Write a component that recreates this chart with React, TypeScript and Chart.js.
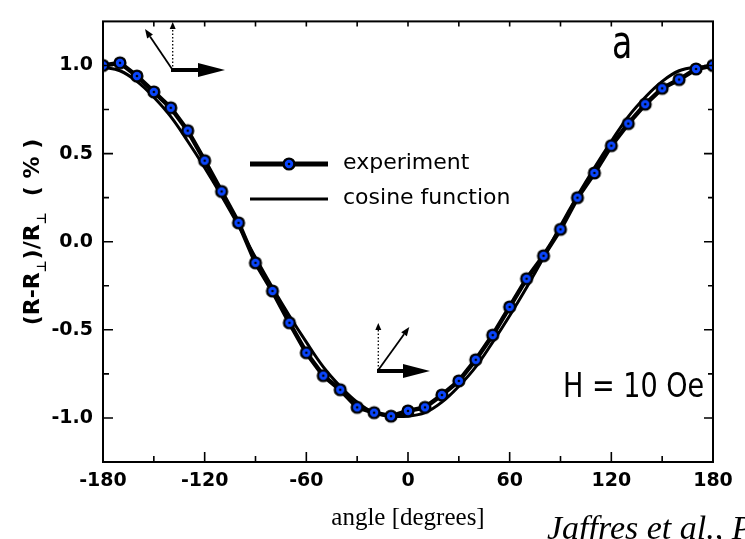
import React, { useEffect, useRef } from "react";
import { Chart, registerables } from "chart.js";

Chart.register(...registerables);

// ---------- data ----------
const angles = [
  -180, -170, -160, -150, -140, -130, -120, -110, -100, -90, -80, -70, -60, -50, -40, -30, -20, -10,
  0, 10, 20, 30, 40, 50, 60, 70, 80, 90, 100, 110, 120, 130, 140, 150, 160, 170, 180,
];
const experiment = [
  1.0, 1.015, 0.94, 0.85, 0.76, 0.63, 0.46, 0.285, 0.107, -0.12, -0.28, -0.46, -0.63, -0.76, -0.84,
  -0.94, -0.97, -0.99, -0.96, -0.94, -0.87, -0.79, -0.67, -0.53, -0.37, -0.21, -0.08, 0.07, 0.25,
  0.39, 0.545, 0.67, 0.78, 0.87, 0.92, 0.98, 1.0,
];
const cosineFunction = [
  0.99, 0.97, 0.91, 0.82, 0.71, 0.57, 0.42, 0.26, 0.09, -0.09, -0.26, -0.42, -0.57, -0.71, -0.82,
  -0.91, -0.97, -0.99, -0.99, -0.97, -0.91, -0.82, -0.71, -0.57, -0.42, -0.26, -0.09, 0.09, 0.26,
  0.42, 0.57, 0.71, 0.82, 0.91, 0.97, 0.99, 0.99,
];
const xMajorTicks = [-180, -120, -60, 0, 60, 120, 180];
const xMinorTicks = [-150, -90, -30, 30, 90, 150];
const yMajorTicks = [-1.0, -0.5, 0.0, 0.5, 1.0];
const yMinorTicks = [-0.75, -0.25, 0.25, 0.75];
const legendLabels = ["experiment", "cosine function"];
const xTitle = "angle [degrees]";
const citation = "Jaffres et al., PRB";
const panelLabel = "a";
const fieldLabel = "H = 10 Oe";

const BLUE = "#0a46ff";

function makeMarker() {
  const c = document.createElement("canvas");
  c.width = 16;
  c.height = 16;
  const g = c.getContext("2d")!;
  g.beginPath();
  g.arc(8, 8, 5.4, 0, Math.PI * 2);
  g.fillStyle = BLUE;
  g.fill();
  g.lineWidth = 2.4;
  g.strokeStyle = "#000";
  g.stroke();
  g.beginPath();
  g.arc(8, 8, 1.3, 0, Math.PI * 2);
  g.fillStyle = "#000";
  g.fill();
  return c;
}

function arrow(
  ctx: CanvasRenderingContext2D,
  x1: number,
  y1: number,
  x2: number,
  y2: number,
  lw: number,
  headLen: number,
  headHalf: number,
  dotted: boolean
) {
  const ang = Math.atan2(y2 - y1, x2 - x1);
  const bx = x2 - Math.cos(ang) * headLen;
  const by = y2 - Math.sin(ang) * headLen;
  ctx.save();
  ctx.strokeStyle = "#000";
  ctx.fillStyle = "#000";
  ctx.lineWidth = lw;
  ctx.setLineDash(dotted ? [1.5, 2] : []);
  ctx.beginPath();
  ctx.moveTo(x1, y1);
  ctx.lineTo(bx, by);
  ctx.stroke();
  ctx.setLineDash([]);
  ctx.beginPath();
  ctx.moveTo(x2, y2);
  ctx.lineTo(bx + Math.sin(ang) * headHalf, by - Math.cos(ang) * headHalf);
  ctx.lineTo(bx - Math.sin(ang) * headHalf, by + Math.cos(ang) * headHalf);
  ctx.closePath();
  ctx.fill();
  ctx.restore();
}

export default function App() {
  const ref = useRef<HTMLCanvasElement | null>(null);

  useEffect(() => {
    const canvas = ref.current;
    if (!canvas) return;
    const marker = makeMarker();

    const overlay = {
      id: "overlay",
      afterDraw(chart: any) {
        const { ctx, chartArea: a } = chart;
        const xs = chart.scales.x;
        const ys = chart.scales.y;
        ctx.save();
        // frame
        ctx.strokeStyle = "#000";
        ctx.lineWidth = 2;
        ctx.strokeRect(a.left, a.top, a.right - a.left, a.bottom - a.top);
        // ticks
        ctx.lineWidth = 1.6;
        ctx.beginPath();
        xMajorTicks.forEach((v) => {
          const px = xs.getPixelForValue(v);
          ctx.moveTo(px, a.bottom);
          ctx.lineTo(px, a.bottom - 10);
          ctx.moveTo(px, a.top);
          ctx.lineTo(px, a.top + 5);
        });
        xMinorTicks.forEach((v) => {
          const px = xs.getPixelForValue(v);
          ctx.moveTo(px, a.bottom);
          ctx.lineTo(px, a.bottom - 6);
          ctx.moveTo(px, a.top);
          ctx.lineTo(px, a.top + 5);
        });
        yMajorTicks.forEach((v) => {
          const py = ys.getPixelForValue(v);
          ctx.moveTo(a.left, py);
          ctx.lineTo(a.left + 10, py);
          ctx.moveTo(a.right, py);
          ctx.lineTo(a.right - 9, py);
        });
        yMinorTicks.forEach((v) => {
          const py = ys.getPixelForValue(v);
          ctx.moveTo(a.left, py);
          ctx.lineTo(a.left + 6, py);
          ctx.moveTo(a.right, py);
          ctx.lineTo(a.right - 5, py);
        });
        ctx.stroke();

        // legend
        ctx.lineWidth = 5;
        ctx.beginPath();
        ctx.moveTo(250, 164);
        ctx.lineTo(328, 164);
        ctx.stroke();
        ctx.drawImage(marker, 289 - 8, 164 - 8);
        ctx.lineWidth = 3;
        ctx.beginPath();
        ctx.moveTo(250, 199);
        ctx.lineTo(328, 199);
        ctx.stroke();
        ctx.fillStyle = "#000";
        ctx.font = '22px "DejaVu Sans"';
        ctx.textAlign = "left";
        ctx.textBaseline = "middle";
        ctx.fillText(legendLabels[0], 343, 163);
        ctx.fillText(legendLabels[1], 343, 198);

        // panel label "a"
        ctx.save();
        ctx.translate(612, 58);
        ctx.scale(0.72, 1);
        ctx.font = '46px "DejaVu Sans"';
        ctx.textBaseline = "alphabetic";
        ctx.fillText(panelLabel, 0, 0);
        ctx.restore();

        // field label
        ctx.save();
        ctx.translate(563, 397);
        ctx.scale(0.82, 1);
        ctx.font = '33px "DejaVu Sans"';
        ctx.textBaseline = "alphabetic";
        ctx.fillText(fieldLabel, 0, 0);
        ctx.restore();

        // arrows top-left
        arrow(ctx, 172.7, 70, 172.7, 22, 1.3, 7, 3, true);
        arrow(ctx, 172.7, 70, 145, 29, 1.8, 9, 3.5, false);
        arrow(ctx, 171, 70, 225, 70, 4, 27, 7, false);
        // arrows middle
        arrow(ctx, 378.3, 370, 378.3, 323, 1.3, 7, 3, true);
        arrow(ctx, 378.3, 370, 409.3, 327, 1.8, 9, 3.5, false);
        arrow(ctx, 377, 371, 430, 371, 4, 27, 7, false);

        // y title with subscripts
        ctx.save();
        ctx.translate(33, 232);
        ctx.rotate(-Math.PI / 2);
        const parts: [string, boolean][] = [
          ["(R-R", false],
          ["\u22A5", true],
          [")/R", false],
          ["\u22A5", true],
          ["  ( % )", false],
        ];
        const mainFont = 'bold 22px "DejaVu Sans"';
        const subFont = 'bold 13px "DejaVu Sans"';
        let total = 0;
        parts.forEach(([t, sub]) => {
          ctx.font = sub ? subFont : mainFont;
          total += ctx.measureText(t).width + (sub ? 1 : 0);
        });
        let cx = -total / 2;
        ctx.textAlign = "left";
        ctx.textBaseline = "middle";
        parts.forEach(([t, sub]) => {
          ctx.font = sub ? subFont : mainFont;
          ctx.fillText(t, cx, sub ? 10 : 0);
          cx += ctx.measureText(t).width + (sub ? 1 : 0);
        });
        ctx.restore();

        // x title
        ctx.font = '25px "Liberation Serif"';
        ctx.textAlign = "center";
        ctx.textBaseline = "middle";
        ctx.fillText(xTitle, 408, 518);
        // citation
        ctx.font = 'italic 34px "Liberation Serif"';
        ctx.textAlign = "left";
        ctx.textBaseline = "alphabetic";
        ctx.fillText(citation, 547, 539);
        ctx.restore();
      },
    };

    const chart = new Chart(canvas, {
      type: "line",
      data: {
        datasets: [
          {
            label: legendLabels[0],
            data: angles.map((a, i) => ({ x: a, y: experiment[i] })),
            borderColor: "#000",
            borderWidth: 4.5,
            pointStyle: marker as any,
            pointRadius: 7,
            tension: 0,
            clip: 0,
          },
          {
            label: legendLabels[1],
            data: angles.map((a, i) => ({ x: a, y: cosineFunction[i] })),
            borderColor: "#000",
            borderWidth: 3,
            pointRadius: 0,
            tension: 0.4,
            clip: 0,
          },
        ],
      },
      options: {
        responsive: false,
        animation: false,
        devicePixelRatio: 1,
        events: [],
        layout: { padding: { top: 10, right: 32, left: 0, bottom: 0 } },
        plugins: { legend: { display: false }, tooltip: { enabled: false } },
        scales: {
          x: {
            type: "linear",
            min: -180,
            max: 180,
            grid: { display: false, drawTicks: false },
            border: { display: false },
            afterBuildTicks: (s: any) => {
              s.ticks = xMajorTicks.map((v) => ({ value: v }));
            },
            afterFit: (s: any) => {
              s.height = 77;
            },
            ticks: {
              color: "#000",
              font: { family: "DejaVu Sans", weight: "bold", size: 19 },
              padding: 8,
              maxRotation: 0,
              autoSkip: false,
              callback: (v: any) => String(v),
            },
          },
          y: {
            type: "linear",
            min: -1.25,
            max: 1.25,
            grid: { display: false, drawTicks: false },
            border: { display: false },
            afterBuildTicks: (s: any) => {
              s.ticks = yMajorTicks.map((v) => ({ value: v }));
            },
            afterFit: (s: any) => {
              s.width = 103;
            },
            ticks: {
              color: "#000",
              font: { family: "DejaVu Sans", weight: "bold", size: 19 },
              padding: 10,
              autoSkip: false,
              callback: (v: any) => Number(v).toFixed(1),
            },
          },
        },
      },
      plugins: [overlay],
    });
    return () => chart.destroy();
  }, []);

  return (
    <div style={{ position: "fixed", left: 0, top: 0, width: 745, height: 539, background: "#fff" }}>
      <canvas ref={ref} width={745} height={539} style={{ display: "block", width: 745, height: 539 }} />
    </div>
  );
}
